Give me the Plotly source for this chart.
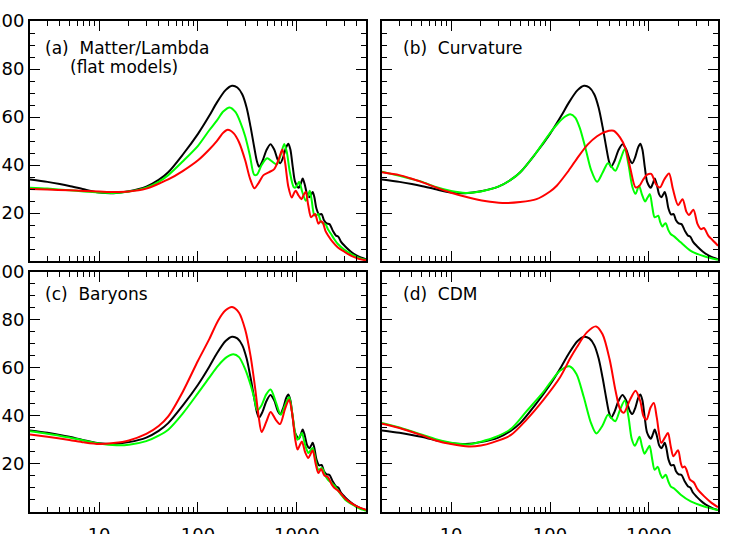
import plotly.graph_objects as go
from plotly.subplots import make_subplots

# fiducial model (black), identical in all four panels
ell_fid = [2, 3, 4, 5, 7, 10, 14, 20, 30, 40, 50, 70, 100, 130, 155, 190, 221, 250, 280, 310,
           340, 370, 395, 415, 450, 490, 540, 590, 640, 680, 730, 780, 820, 860, 910, 960,
           1045, 1100, 1145, 1200, 1270, 1335, 1390, 1445, 1500, 1580, 1680, 1780, 1880,
           2000, 2140, 2300, 2480, 2620, 2800, 3050, 3500, 4000, 4500, 5000]
cl_fid = [34.0, 33.0, 32.1, 31.3, 29.9, 28.6, 28.3, 29.1, 31.0, 33.8, 37.0, 44.3, 53.0, 60.5,
          66.0, 71.2, 73.0, 72.3, 69.5, 64.0, 56.0, 47.5, 41.5, 39.3, 41.8, 46.0, 48.7, 46.5,
          42.2, 40.8, 43.5, 47.5, 48.9, 46.5, 39.0, 33.0, 30.5, 32.5, 34.4, 32.0, 27.8, 26.6,
          27.6, 28.8, 26.8, 21.8, 19.4, 19.6, 17.0, 15.7, 15.4, 12.8, 10.7, 10.2, 8.0, 6.3,
          4.0, 2.4, 1.4, 0.8]

# (a) Matter/Lambda
ell_a_green = [2, 3, 5, 7, 10, 14, 20, 30, 40, 50, 70, 100, 130, 155, 180, 209, 240, 270, 300,
               335, 370, 395, 440, 500, 560, 625, 690, 745, 790, 850, 930, 975, 1055, 1130,
               1230, 1290, 1350, 1410, 1500, 1570, 1640, 1750, 1860, 1960, 2060, 2200, 2400,
               2600, 3000, 3550, 4200, 5000]
cl_a_green = [30.6, 30.2, 29.5, 29.0, 28.6, 28.4, 29.0, 30.6, 33.0, 35.8, 41.5, 48.0, 54.5,
              58.5, 62.3, 64.0, 62.0, 57.5, 52.0, 44.0, 36.0, 36.0, 40.0, 42.8, 41.5, 40.3,
              44.5, 48.8, 45.5, 37.0, 30.8, 30.7, 33.0, 29.0, 25.1, 27.0, 29.3, 25.5, 19.2,
              19.0, 19.6, 16.5, 15.6, 15.2, 13.3, 11.5, 9.0, 7.1, 4.8, 2.9, 1.4, 0.5]
ell_a_red = [2, 3, 5, 7, 10, 14, 20, 30, 40, 50, 70, 100, 130, 155, 180, 200, 230, 260, 300,
             335, 372, 410, 460, 520, 590, 650, 713, 760, 820, 889, 940, 975, 1040, 1114,
             1170, 1230, 1300, 1390, 1460, 1530, 1650, 1750, 1830, 1950, 2060, 2300, 2600,
             3000, 3550, 4200, 5000]
cl_a_red = [30.0, 29.8, 29.5, 29.2, 29.0, 28.8, 29.0, 30.2, 32.2, 34.0, 37.5, 42.0, 46.5, 50.0,
            53.5, 54.7, 53.2, 49.5, 42.0, 34.5, 30.3, 32.5, 35.8, 37.0, 38.3, 42.0, 46.5, 41.0,
            31.0, 26.5, 28.5, 29.3, 27.3, 25.8, 27.5, 28.9, 23.5, 18.3, 19.0, 19.6, 15.6, 16.6,
            16.0, 12.5, 10.8, 8.0, 5.7, 4.0, 2.2, 1.0, 0.3]

# (b) Curvature
ell_b_green = [2, 3, 4, 5, 7, 10, 14, 20, 30, 40, 50, 70, 100, 120, 140, 160, 180, 200, 230,
               260, 299, 340, 385, 420, 458, 510, 570, 620, 680, 733, 794, 850, 915, 970,
               1024, 1080, 1140, 1190, 1245, 1300, 1370, 1420, 1480, 1570, 1660, 1800, 2100,
               2650, 3630, 5000]
cl_b_green = [37.2, 35.5, 34.2, 33.1, 30.9, 29.2, 28.4, 29.0, 31.0, 33.8, 37.0, 44.3, 53.3,
              57.3, 60.0, 61.2, 59.8, 55.5, 46.5, 38.0, 33.0, 36.8, 40.8, 39.3, 37.6, 41.8,
              46.7, 40.5, 31.0, 28.0, 31.4, 27.8, 24.8, 26.5, 27.9, 22.8, 18.3, 18.5, 18.9,
              16.3, 14.4, 15.2, 15.8, 13.0, 11.3, 10.3, 7.8, 4.3, 2.0, 0.5]
ell_b_red = [2, 3, 4, 5, 7, 10, 15, 22, 33, 50, 73, 100, 117, 150, 186, 240, 299, 360, 440,
             510, 580, 650, 733, 800, 870, 960, 1057, 1180, 1295, 1430, 1600, 1750, 1975,
             2190, 2400, 2550, 2820, 3100, 3360, 3600, 4000, 4300, 5000]
cl_b_red = [37.0, 35.8, 34.3, 33.0, 30.7, 28.5, 26.5, 25.0, 24.2, 24.6, 25.8, 29.0, 31.4, 37.0,
            42.5, 48.5, 52.0, 53.8, 54.3, 51.5, 47.0, 38.5, 30.7, 31.3, 33.8, 36.0, 36.3, 32.0,
            30.7, 34.0, 36.5, 30.0, 23.3, 25.8, 20.5, 19.2, 21.4, 15.5, 13.3, 13.8, 10.5, 9.2,
            6.4]

# (c) Baryons
ell_c_green = [2, 3, 5, 7, 10, 15, 20, 30, 40, 50, 70, 100, 130, 160, 195, 228, 260, 300, 340,
               370, 398, 440, 490, 543, 610, 687, 760, 834, 900, 960, 1016, 1070, 1125, 1210,
               1305, 1370, 1445, 1550, 1650, 1800, 1920, 2055, 2400, 2800, 3100, 3550, 4200,
               5000]
cl_c_green = [33.6, 32.6, 31.0, 29.8, 28.5, 27.8, 28.0, 29.5, 31.8, 34.3, 41.0, 49.5, 56.0,
              61.0, 64.5, 65.7, 64.5, 59.5, 53.0, 47.5, 42.3, 44.5, 49.0, 51.0, 46.0, 40.5,
              44.5, 47.9, 41.0, 33.0, 30.1, 31.5, 32.9, 28.0, 24.6, 25.5, 26.7, 21.5, 17.6,
              18.3, 15.5, 13.5, 11.0, 7.2, 5.0, 3.4, 1.6, 0.5]
ell_c_red = [2, 3, 5, 7, 10, 14, 20, 30, 40, 50, 70, 100, 130, 160, 190, 221, 260, 300, 340,
             380, 410, 440, 490, 543, 610, 676, 760, 834, 900, 960, 1016, 1070, 1125, 1210,
             1305, 1370, 1445, 1550, 1650, 1760, 1900, 2055, 2250, 2400, 2600, 2800, 3100,
             3550, 4200, 5000]
cl_c_red = [32.3, 31.3, 30.0, 29.0, 28.3, 28.7, 29.8, 32.5, 35.8, 39.8, 50.0, 63.0, 72.0, 79.8,
            84.0, 85.4, 83.0, 76.0, 65.0, 51.0, 40.0, 33.3, 37.5, 41.7, 38.5, 36.6, 43.0, 46.8,
            40.5, 30.5, 26.0, 27.8, 29.4, 25.0, 22.5, 24.0, 25.7, 20.0, 16.2, 17.9, 15.2, 14.6,
            11.5, 10.0, 9.0, 7.6, 5.5, 3.7, 2.0, 0.9]

# (d) CDM
ell_d_green = [2, 3, 5, 7, 10, 15, 20, 26.5, 40, 58, 85, 100, 126, 157, 185, 219, 260, 294,
               340, 386, 420, 458, 510, 570, 620, 670, 721, 804, 850, 903, 960, 1016, 1080,
               1143, 1230, 1300, 1370, 1480, 1570, 1660, 1800, 2100, 2650, 3630, 5000]
cl_d_green = [37.1, 35.2, 32.3, 30.3, 28.8, 28.1, 29.3, 30.8, 34.5, 42.0, 49.8, 53.8, 58.8,
              60.7, 57.5, 48.0, 37.0, 32.7, 36.0, 40.5, 39.0, 37.8, 42.5, 46.4, 40.0, 30.5,
              27.6, 31.3, 27.5, 24.3, 26.0, 27.6, 22.0, 17.6, 18.8, 16.0, 14.2, 15.5, 12.8,
              10.7, 9.8, 7.2, 4.4, 2.3, 0.8]
ell_d_red = [2, 3, 5, 7, 10, 15, 20, 26.5, 40, 58, 85, 126, 160, 186, 236, 292, 340, 401, 460,
             510, 557, 640, 733, 820, 880, 948, 1040, 1122, 1200, 1336, 1450, 1560, 1660, 1770,
             1972, 2100, 2186, 2300, 2400, 2600, 2850, 3100, 3630, 4300, 5000]
cl_d_red = [36.8, 35.0, 32.0, 29.8, 28.3, 27.3, 27.7, 29.0, 32.0, 38.5, 46.5, 56.0, 64.0, 68.5,
            74.8, 77.3, 74.0, 63.5, 50.5, 43.0, 41.3, 46.5, 50.5, 46.0, 40.0, 38.5, 43.5, 45.4,
            39.5, 28.8, 31.0, 32.9, 27.5, 23.2, 25.7, 20.5, 18.5, 19.0, 17.6, 13.5, 12.3, 9.5,
            6.5, 3.8, 2.0]

panel_labels = ['(a)  Matter/Lambda', '(b)  Curvature', '(c)  Baryons', '(d)  CDM']
sub_label = '(flat models)'

FONT = 'DejaVu Sans'
GREEN = '#00ff00'
RED = '#ff0000'

fig = make_subplots(rows=2, cols=2, horizontal_spacing=0.0233, vertical_spacing=0.022)

panels = [
    (1, 1, ell_a_green, cl_a_green, ell_a_red, cl_a_red),
    (1, 2, ell_b_green, cl_b_green, ell_b_red, cl_b_red),
    (2, 1, ell_c_green, cl_c_green, ell_c_red, cl_c_red),
    (2, 2, ell_d_green, cl_d_green, ell_d_red, cl_d_red),
]

for row, col, lg, cg, lr, cr in panels:
    for xs, ys, colr in [(ell_fid, cl_fid, 'black'), (lg, cg, GREEN), (lr, cr, RED)]:
        fig.add_trace(go.Scatter(x=xs, y=ys, mode='lines',
                                 line=dict(color=colr, width=2, shape='spline', smoothing=0.8),
                                 showlegend=False, hoverinfo='skip'),
                      row=row, col=col)

minor_x = [v * d for d in (1, 10, 100, 1000) for v in range(2, 10) if 2 <= v * d <= 5000]

for row in (1, 2):
    for col in (1, 2):
        fig.update_xaxes(type='log', range=[0.30103, 3.69897], automargin=False,
                         tickvals=[10, 100, 1000], ticktext=['10', '100', '1000'],
                         ticks='inside', ticklen=10, tickwidth=1.3, tickcolor='black',
                         minor=dict(tickvals=minor_x, ticks='inside', ticklen=5,
                                    tickwidth=1.3, tickcolor='black', showgrid=False),
                         showline=True, linecolor='black', linewidth=2, mirror='allticks',
                         showgrid=False, zeroline=False,
                         showticklabels=(row == 2), ticklabelstandoff=5,
                         tickfont=dict(family=FONT, size=18, color='black'),
                         row=row, col=col)
        fig.update_yaxes(range=[0, 100], tickvals=[20, 40, 60, 80, 100], automargin=False,
                         ticks='inside', ticklen=10, tickwidth=1.3, tickcolor='black',
                         minor=dict(dtick=5, ticks='inside', ticklen=5, tickwidth=1.3,
                                    tickcolor='black', showgrid=False),
                         showline=True, linecolor='black', linewidth=2, mirror='allticks',
                         showgrid=False, zeroline=False,
                         showticklabels=(col == 1),
                         tickfont=dict(family=FONT, size=18, color='black'),
                         row=row, col=col)

# panel titles, placed in paper coordinates
label_pos = [(0.0189, 0.945), (0.5392, 0.945), (0.0189, 0.444), (0.5392, 0.444)]
for text, (px, py) in zip(panel_labels, label_pos):
    fig.add_annotation(text=text, x=px, y=py, xref='paper', yref='paper',
                       xanchor='left', yanchor='middle', showarrow=False,
                       font=dict(family=FONT, size=17, color='black'))
fig.add_annotation(text=sub_label, x=0.0552, y=0.906, xref='paper', yref='paper',
                   xanchor='left', yanchor='middle', showarrow=False,
                   font=dict(family=FONT, size=17, color='black'))

fig.update_layout(width=747, height=534,
                  margin=dict(l=30, r=29, t=21, b=22),
                  plot_bgcolor='white', paper_bgcolor='white',
                  font=dict(family=FONT, color='black'))

# drop the default page margin so the figure sits at the window's corner
fig.write_html("out.html", config={'displayModeBar': False},
               post_script="document.body.style.margin='0';")
